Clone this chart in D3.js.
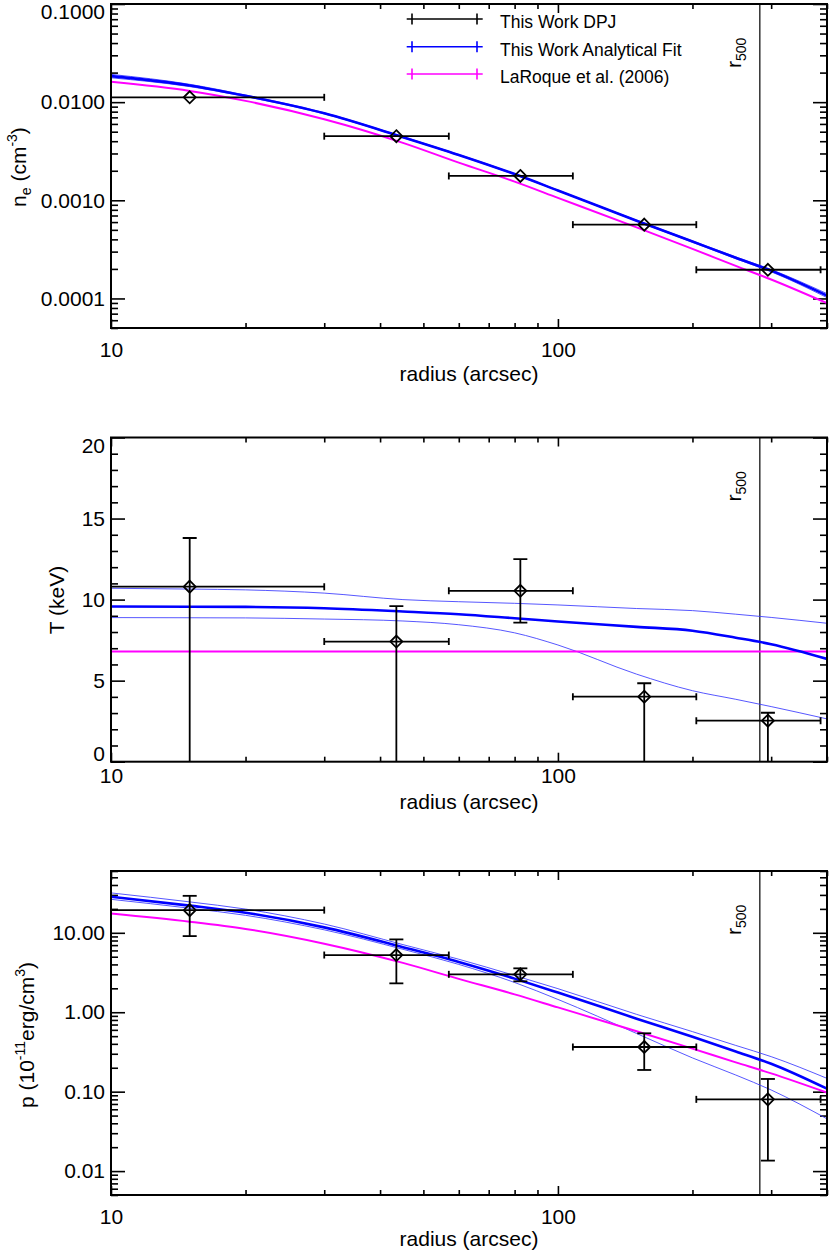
<!DOCTYPE html>
<html><head><meta charset="utf-8">
<script src="https://cdn.jsdelivr.net/npm/d3@7"></script>
<style>
body{margin:0;background:#fff;}
svg{display:block;}
text{font-family:"Liberation Sans",Arial,Helvetica,sans-serif;fill:#000;}
</style>
</head><body>
<svg id="chart" width="830" height="1254"></svg>
<script>
// ---------------- DATA ----------------
const radiusGrid = [10, 15, 20, 30, 45, 60, 80, 100, 150, 200, 250, 300, 400];

// electron density (cm^-3)
const neFit      = [0.0184, 0.0148, 0.0116, 0.0077, 0.0044, 0.0029, 0.00185, 0.00126, 0.00062, 0.00038, 0.00026, 0.000192, 0.000107];
const neFitHi    = [0.0192, 0.0152, 0.0118, 0.0078, 0.00445, 0.00293, 0.00187, 0.00127, 0.000627, 0.000386, 0.000265, 0.000197, 0.000112];
const neFitLo    = [0.0177, 0.0144, 0.0114, 0.0076, 0.00435, 0.00287, 0.00183, 0.00125, 0.000613, 0.000374, 0.000254, 0.000187, 0.000102];
const neLaRoque  = [0.0161, 0.0130, 0.0103, 0.0067, 0.00385, 0.00242, 0.00155, 0.00106, 0.00053, 0.00032, 0.000215, 0.000156, 0.0000895];

// temperature (keV)
const tFit       = [9.57, 9.56, 9.55, 9.47, 9.27, 9.1, 8.85, 8.65, 8.32, 8.08, 7.65, 7.25, 6.34];
const tFitHi     = [10.7, 10.65, 10.6, 10.4, 10.0, 9.87, 9.77, 9.67, 9.45, 9.32, 9.1, 8.9, 8.54];
const tFitLo     = [8.89, 8.88, 8.87, 8.8, 8.68, 8.45, 7.95, 7.2, 5.4, 4.38, 3.85, 3.4, 2.64];
const tLaRoqueR  = [10, 400];
const tLaRoque   = [6.8, 6.8];

// pressure (1e-11 erg/cm^3)
const pFit       = [28.4, 22.0, 17.9, 11.7, 6.6, 4.3, 2.65, 1.77, 0.83, 0.49, 0.321, 0.225, 0.109];
const pFitHi     = [31.8, 24.5, 19.9, 12.9, 7.1, 4.65, 2.9, 1.98, 0.94, 0.57, 0.382, 0.276, 0.147];
const pFitLo     = [26.4, 20.4, 16.6, 10.9, 6.2, 4.0, 2.37, 1.45, 0.54, 0.266, 0.162, 0.105, 0.0455];
const pLaRoque   = [17.5, 13.8, 11.2, 7.3, 4.18, 2.63, 1.68, 1.15, 0.576, 0.348, 0.234, 0.17, 0.0973];

// DPJ deprojected points
const binCenter  = [15, 43.5, 82.4, 156, 295];
const binLo      = [5, 30, 57, 108, 204];
const binHi      = [30, 57, 108, 204, 387];
const neObs      = [0.0112, 0.0045, 0.00177, 0.000565, 0.000196];
const tObs       = [10.8, 7.41, 10.54, 4.01, 2.53];
const tObsHi     = [13.8, 9.6, 12.5, 4.84, 3.02];
const tObsLo     = [-1, -1, 8.58, -1, -1];
const pObs       = [19.3, 5.25, 3.0, 0.365, 0.080];
const pObsHi     = [29.2, 8.26, 3.57, 0.543, 0.1445];
const pObsLo     = [9.09, 2.31, 2.45, 0.1875, 0.01355];

const r500 = 283;

const xMajorTicks = [10, 100];
const xMinorTicks = [20, 30, 40, 50, 60, 70, 80, 90, 200, 300, 400];
const neMajorTicks = [0.0001, 0.001, 0.01, 0.1];
const tMajorTicks = [0, 5, 10, 15, 20];
const pMajorTicks = [0.01, 0.1, 1, 10];

const legendLabels = ["This Work DPJ", "This Work Analytical Fit", "LaRoque et al. (2006)"];
const legendColors = ["#000000", "#0000ff", "#ff00ff"];

// ---------------- DRAW ----------------
const svg = d3.select("#chart");
const FONT = 21;
const left = 111, right = 827;
const x = d3.scaleLog().domain([10, 400]).range([left, right]);

function logMinors(dom) {
  const out = [];
  for (let e = -6; e <= 3; e++) {
    for (let k = 2; k <= 9; k++) {
      const v = k * Math.pow(10, e);
      if (v >= dom[0] * 0.999 && v <= dom[1] * 1.001) out.push(v);
    }
  }
  return out;
}

const diamond = {
  draw(ctx, size) {
    const r = 6;
    ctx.moveTo(0, -r); ctx.lineTo(r, 0); ctx.lineTo(0, r); ctx.lineTo(-r, 0); ctx.closePath();
  }
};

function drawPanel(cfg, idx) {
  const {top, bottom} = cfg;
  const y = cfg.y.range([bottom, top]);
  const g = svg.append("g");
  const clipId = "clip" + idx;
  svg.append("clipPath").attr("id", clipId).append("rect")
    .attr("x", left).attr("y", top).attr("width", right - left).attr("height", bottom - top);

  const styleAxis = sel => {
    sel.select(".domain").remove();
    sel.selectAll("line").attr("stroke", "#000").attr("stroke-width", 1.6);
    sel.selectAll("text").attr("font-size", FONT).attr("fill", "#000")
      .attr("font-family", '"Liberation Sans",Arial,sans-serif');
  };
  // x axes
  g.append("g").attr("transform", `translate(0,${bottom})`)
    .call(d3.axisBottom(x).tickValues(xMajorTicks).tickSize(-9).tickSizeOuter(0)
      .tickPadding(cfg.xLabPad).tickFormat(d3.format("d"))).call(styleAxis);
  g.append("g").attr("transform", `translate(0,${bottom})`)
    .call(d3.axisBottom(x).tickValues(xMinorTicks).tickSize(-5).tickSizeOuter(0).tickFormat("")).call(styleAxis);
  g.append("g").attr("transform", `translate(0,${top})`)
    .call(d3.axisTop(x).tickValues(xMajorTicks).tickSize(-9).tickSizeOuter(0).tickFormat("")).call(styleAxis);
  g.append("g").attr("transform", `translate(0,${top})`)
    .call(d3.axisTop(x).tickValues(xMinorTicks).tickSize(-5).tickSizeOuter(0).tickFormat("")).call(styleAxis);
  // y axes
  const yl = g.append("g").attr("transform", `translate(${left},0)`)
    .call(d3.axisLeft(y).tickValues(cfg.yMajor).tickSize(-14).tickSizeOuter(0).tickPadding(6)
      .tickFormat(cfg.yFmt)).call(styleAxis);
  yl.selectAll(".tick").each(function(d) {
    const py = y(d);
    const t = d3.select(this).select("text");
    if (py < top + 6) t.attr("dy", (0.32 * FONT + (top + 8 - py)) + "px");
    else if (py > bottom - 8) t.attr("dy", (0.32 * FONT - (py - (bottom - 8))) + "px");
    else t.attr("dy", (0.32 * FONT) + "px");
  });
  g.append("g").attr("transform", `translate(${left},0)`)
    .call(d3.axisLeft(y).tickValues(cfg.yMinor).tickSize(-7).tickSizeOuter(0).tickFormat("")).call(styleAxis);
  g.append("g").attr("transform", `translate(${right},0)`)
    .call(d3.axisRight(y).tickValues(cfg.yMajor).tickSize(-14).tickSizeOuter(0).tickFormat("")).call(styleAxis);
  g.append("g").attr("transform", `translate(${right},0)`)
    .call(d3.axisRight(y).tickValues(cfg.yMinor).tickSize(-7).tickSizeOuter(0).tickFormat("")).call(styleAxis);

  const plot = g.append("g").attr("clip-path", `url(#${clipId})`);

  plot.append("line").attr("x1", x(r500)).attr("x2", x(r500)).attr("y1", top).attr("y2", bottom)
    .attr("stroke", "#000").attr("stroke-width", 1.2);

  const line = d3.line().x(d => x(d[0])).y(d => y(d[1])).curve(d3.curveMonotoneX);
  const zip = (xs, ys) => xs.map((v, i) => [v, ys[i]]);

  [cfg.fitHi, cfg.fitLo].forEach(arr => {
    plot.append("path").attr("d", line(zip(radiusGrid, arr)))
      .attr("fill", "none").attr("stroke", "#3a3aff").attr("stroke-width", 1).attr("opacity", 0.85);
  });
  plot.append("path").attr("d", line(zip(cfg.lrX, cfg.lr)))
    .attr("fill", "none").attr("stroke", "#ff00ff").attr("stroke-width", 2);
  plot.append("path").attr("d", line(zip(radiusGrid, cfg.fit)))
    .attr("fill", "none").attr("stroke", "#0000ff").attr("stroke-width", 2.6);

  const pts = plot.append("g").attr("stroke", "#000").attr("stroke-width", 1.8).attr("fill", "none");
  binCenter.forEach((r, i) => {
    const cy = y(cfg.obs[i]);
    pts.append("line").attr("x1", x(binLo[i])).attr("x2", x(binHi[i])).attr("y1", cy).attr("y2", cy);
    [binLo[i], binHi[i]].forEach(b => {
      pts.append("line").attr("x1", x(b)).attr("x2", x(b)).attr("y1", cy - 3.5).attr("y2", cy + 3.5);
    });
    if (cfg.obsHi) {
      const cx = x(r);
      pts.append("line").attr("x1", cx).attr("x2", cx).attr("y1", y(cfg.obsHi[i])).attr("y2", y(Math.max(cfg.obsLo[i], cfg.yClampMin)));
      pts.append("line").attr("x1", cx - 7).attr("x2", cx + 7).attr("y1", y(cfg.obsHi[i])).attr("y2", y(cfg.obsHi[i]));
      if (cfg.obsLo[i] > cfg.yClampMin) {
        pts.append("line").attr("x1", cx - 7).attr("x2", cx + 7).attr("y1", y(cfg.obsLo[i])).attr("y2", y(cfg.obsLo[i]));
      }
    }
    pts.append("path").attr("d", d3.symbol().type(diamond)())
      .attr("transform", `translate(${x(r)},${cy})`);
  });

  g.append("rect").attr("x", left).attr("y", top).attr("width", right - left).attr("height", bottom - top)
    .attr("fill", "none").attr("stroke", "#000").attr("stroke-width", 2);

  const rl = g.append("text").attr("transform", `translate(${x(r500) - 19},${top + 64}) rotate(-90)`)
    .attr("font-size", FONT);
  rl.append("tspan").text("r");
  rl.append("tspan").attr("font-size", 14).attr("dy", 5).text("500");

  g.append("text").attr("x", (left + right) / 2).attr("y", cfg.xTitleY).attr("text-anchor", "middle")
    .attr("font-size", FONT).text("radius (arcsec)");

  const yt = g.append("text").attr("transform", `translate(${cfg.yTitleX},${cfg.yTitleY}) rotate(-90)`)
    .attr("text-anchor", "middle").attr("font-size", FONT);
  cfg.yTitle(yt);
}

const neDom = [0.00005, 0.1];
const tDom = [0, 20];
const pDom = [0.005, 60];

const panels = [
  {
    top: 4, bottom: 328, y: d3.scaleLog().domain(neDom), yMajor: neMajorTicks, yMinor: logMinors(neDom),
    yFmt: d3.format(".4f"), fit: neFit, fitHi: neFitHi, fitLo: neFitLo, lr: neLaRoque, lrX: radiusGrid,
    obs: neObs, obsHi: null, xLabPad: 14, xTitleY: 381, yTitleX: 26, yTitleY: 167,
    yTitle: t => {
      t.append("tspan").text("n");
      t.append("tspan").attr("font-size", 14).attr("dy", 5).text("e");
      t.append("tspan").attr("dy", -5).text(" (cm");
      t.append("tspan").attr("font-size", 14).attr("dy", -9).text("-3");
      t.append("tspan").attr("dy", 9).text(")");
    }
  },
  {
    top: 437.5, bottom: 761.7, y: d3.scaleLinear().domain(tDom), yMajor: tMajorTicks, yMinor: d3.range(1, 20).filter(v => v % 5 !== 0),
    yFmt: d3.format("d"), fit: tFit, fitHi: tFitHi, fitLo: tFitLo, lr: tLaRoque, lrX: tLaRoqueR,
    obs: tObs, obsHi: tObsHi, obsLo: tObsLo, yClampMin: -1, xLabPad: 6, xTitleY: 809, yTitleX: 64, yTitleY: 600,
    yTitle: t => { t.text("T (keV)"); }
  },
  {
    top: 871, bottom: 1195, y: d3.scaleLog().domain(pDom), yMajor: pMajorTicks, yMinor: logMinors(pDom),
    yFmt: d3.format(".2f"), fit: pFit, fitHi: pFitHi, fitLo: pFitLo, lr: pLaRoque, lrX: radiusGrid,
    obs: pObs, obsHi: pObsHi, obsLo: pObsLo, yClampMin: 0.001, xLabPad: 14, xTitleY: 1246, yTitleX: 34, yTitleY: 1035,
    yTitle: t => {
      t.append("tspan").text("p (10");
      t.append("tspan").attr("font-size", 14).attr("dy", -9).text("-11");
      t.append("tspan").attr("dy", 9).text("erg/cm");
      t.append("tspan").attr("font-size", 14).attr("dy", -9).text("3");
      t.append("tspan").attr("dy", 9).text(")");
    }
  }
];

panels.forEach((p, i) => drawPanel(p, i));

// legend (panel 1)
const leg = svg.append("g");
const legRows = [19, 46.7, 74];
legendLabels.forEach((lab, i) => {
  const yy = legRows[i];
  const c = legendColors[i];
  leg.append("line").attr("x1", 406.7).attr("x2", 482.7).attr("y1", yy).attr("y2", yy)
    .attr("stroke", c).attr("stroke-width", 1.6);
  [412, 477].forEach(xx => leg.append("line").attr("x1", xx).attr("x2", xx).attr("y1", yy - 5.5).attr("y2", yy + 5.5)
    .attr("stroke", c).attr("stroke-width", 1.6));
  leg.append("text").attr("x", 500).attr("y", yy + 9).attr("font-size", 17.5).text(lab);
});
</script>
</body></html>
